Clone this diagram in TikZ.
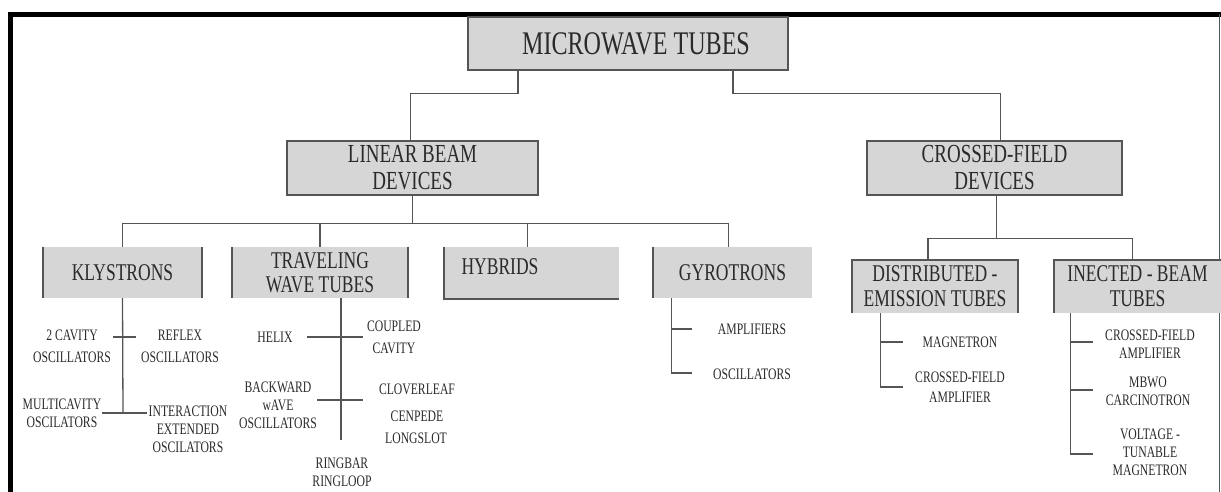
\documentclass[tikz,border=0pt]{standalone}
\usepackage{fontspec}
\setmainfont{Liberation Serif}[FakeStretch=0.73]
\definecolor{boxgray}{HTML}{D6D6D6}
\definecolor{linegray}{HTML}{555555}
\definecolor{txt}{HTML}{2A2A2A}
\begin{document}
\begin{tikzpicture}[x=1pt,y=-1pt,
  box/.style={fill=boxgray,inner sep=0pt,align=center,text=txt},
  fullbox/.style={box,draw=linegray,line width=1.5pt},
  bline/.style={draw=linegray,line width=1.5pt},
  conn/.style={draw=linegray,line width=1.3pt},
  lab/.style={inner sep=1pt,align=center,text=txt,font=\fontsize{16}{18}\selectfont},
  topf/.style={font=\fontsize{33}{34}\selectfont},
  midf/.style={font=\fontsize{26}{27}\selectfont},
  lowf/.style={font=\fontsize{24}{24}\selectfont}]
\useasboundingbox (0,0) rectangle (1221,492);
% frame
\draw[line width=5pt] (10.5,492) -- (10.5,14.5) -- (1221,14.5);
\draw[linegray,line width=1pt] (1219.5,14.5) -- (1219.5,492);
% level 1
\node[fullbox,topf,minimum width=320,minimum height=53] (mt) at (628,43.5) {\hspace{16pt}MICROWAVE TUBES};
% level 2
\node[fullbox,midf,minimum width=251,minimum height=54] (lb) at (412.5,168) {LINEAR BEAM\\DEVICES};
\node[fullbox,midf,minimum width=255,minimum height=54] (cf) at (994.5,168) {CROSSED-FIELD\\DEVICES};
% level 3
\node[box,lowf,minimum width=159,minimum height=51] (kl) at (122.5,272.5) {KLYSTRONS};
\node[box,lowf,minimum width=176,minimum height=51] (tw) at (320,272.5) {TRAVELING\\WAVE TUBES};
\node[box,minimum width=175,minimum height=52] (hy) at (531.5,273) {};
\node[inner sep=0pt,lowf,text=txt] (hyt) at (500,267) {HYBRIDS};
\node[box,lowf,minimum width=159,minimum height=51] (gy) at (732.5,272.5) {GYROTRONS};
\node[box,lowf,minimum width=166,minimum height=53] (de) at (935,286.5) {DISTRIBUTED -\\[1pt]EMISSION TUBES};
\node[box,lowf,minimum width=167,minimum height=53] (ie) at (1137.5,286.5) {INECTED - BEAM\\[1pt]TUBES};
% partial borders
\draw[bline] (kl.north west) -- (kl.south west) (kl.north east) -- (kl.south east);
\draw[bline] (tw.north west) -- (tw.south west) (tw.north east) -- (tw.south east);
\draw[bline] (hy.north west) -- (hy.south west) -- (hy.south east);
\draw[bline] (gy.north west) -- (gy.south west);
\draw[bline] (de.south west) -- (de.north west) -- (de.north east) -- (de.south east);
\draw[bline] (ie.south west) -- (ie.north west) -- (ie.north east);
% connectors level 1 -> 2
\draw[conn] ([xshift=-110pt]mt.south) -- ++(0,23) -| ([xshift=-2pt]lb.north);
\draw[conn] ([xshift=105pt]mt.south) -- ++(0,23) -| ([xshift=6pt]cf.north);
% linear beam -> level 3
\draw[conn] (lb.south) -- ++(0,28) coordinate (lbj);
\draw[conn] (kl.north) -- (kl.north |- lbj) -- ([xshift=-4pt]gy.north |- lbj) -- ([xshift=-4pt]gy.north);
\draw[conn] (tw.north) -- (tw.north |- lbj);
\draw[conn] ([xshift=-4pt]hy.north) -- ([xshift=-4pt]hy.north |- lbj);
% crossed field -> level 3
\draw[conn] ([xshift=2pt]cf.south) -- ++(0,43) coordinate (cfj);
\draw[conn] ([xshift=-7pt]de.north) -- ([xshift=-7pt]de.north |- cfj) -- ([xshift=-5pt]ie.north |- cfj) -- ([xshift=-5pt]ie.north);
% klystron subtree
\node[lab] (k2c) at (72,346) {2 CAVITY\\[4pt]OSCILLATORS};
\node[lab] (krf) at (180,346) {REFLEX\\[4pt]OSCILLATORS};
\node[lab] (kmc) at (62,413.5) {MULTICAVITY\\OSCILATORS};
\node[lab] (kie) at (188,429) {INTERACTION\\EXTENDED\\OSCILATORS};
\coordinate (kb) at (123,413);
\coordinate (ka1) at (113,337);
\coordinate (ka2) at (136,337);
\coordinate (kb1) at (102,413);
\coordinate (kb2) at (147,413);
\draw[conn] (kl.south) -- (kb);
\draw[conn] (ka1) -- (ka2);
\draw[conn] (kb1) -- (kb2);
% TWT subtree
\node[lab] (hx) at (275,337) {HELIX};
\node[lab] (cc) at (394,337) {COUPLED\\[4pt]CAVITY};
\node[lab] (bw) at (278,405.5) {BACKWARD\\wAVE\\OSCILLATORS};
\node[lab] (clf) at (417,389) {CLOVERLEAF};
\node[lab] (cnp) at (417,416) {CENPEDE};
\node[lab] (lsl) at (416,438) {LONGSLOT};
\node[lab] (rbr) at (342,463) {RINGBAR};
\node[lab] (rlp) at (342,481) {RINGLOOP};
\coordinate (tb) at (341,440);
\coordinate (ta1) at (307,337);
\coordinate (ta2) at (363,337);
\coordinate (tc1) at (317,400);
\coordinate (tc2) at (363,400);
\draw[conn] ([xshift=21pt]tw.south) -- (tb);
\draw[conn] (ta1) -- (ta2);
\draw[conn] (tc1) -- (tc2);
% gyrotron subtree
\node[lab] (gam) at (752,329) {AMPLIFIERS};
\node[lab] (gos) at (752,374) {OSCILLATORS};
\coordinate (gt) at (692,329);
\coordinate (gb) at (692,373);
\draw[conn] ([xshift=19pt]gy.south west) |- (gb);
\draw[conn] ([xshift=19pt]gy.south west |- gt) -- (gt);
% distributed emission subtree
\node[lab] (dmg) at (960,342) {MAGNETRON};
\node[lab] (dcf) at (960,387) {CROSSED-FIELD\\[2pt]AMPLIFIER};
\coordinate (dt) at (903,342);
\coordinate (db) at (903,387);
\draw[conn] ([xshift=29pt]de.south west) |- (db);
\draw[conn] ([xshift=29pt]de.south west |- dt) -- (dt);
% injected beam subtree
\node[lab] (icf) at (1150,344.5) {CROSSED-FIELD\\AMPLIFIER};
\node[lab] (imb) at (1148,391.5) {MBWO\\CARCINOTRON};
\node[lab] (ivt) at (1150,452) {VOLTAGE -\\TUNABLE\\MAGNETRON};
\coordinate (it1) at (1093,342);
\coordinate (it2) at (1093,390);
\coordinate (it3) at (1093,454);
\draw[conn] ([xshift=17pt]ie.south west) |- (it3);
\draw[conn] ([xshift=17pt]ie.south west |- it1) -- (it1);
\draw[conn] ([xshift=17pt]ie.south west |- it2) -- (it2);
\end{tikzpicture}
\end{document}
